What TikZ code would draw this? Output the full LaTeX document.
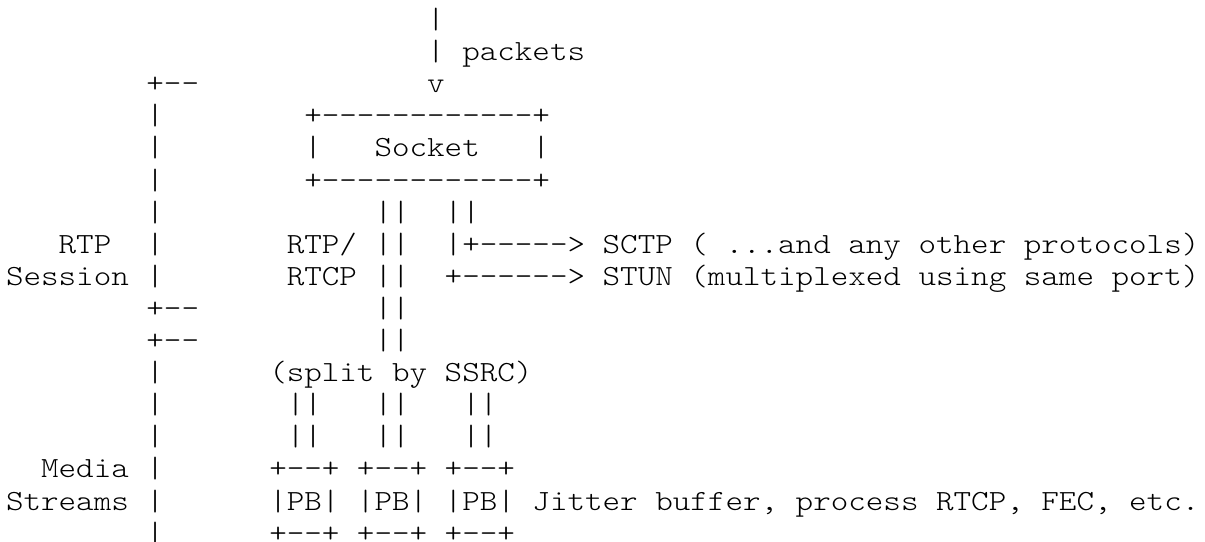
\documentclass[tikz,border=0pt]{standalone}
\usepackage{fontspec}
\setmonofont{Latin Modern Mono Light}[FakeStretch=1.142857]

\tikzset{
  ascii/.style={anchor=base west, inner sep=0pt, outer sep=0pt,
    font=\ttfamily\frenchspacing\fontsize{14.625pt}{16pt}\selectfont},
}

\begin{document}
\begin{tikzpicture}[x=8.775pt, y=-16.05pt]
        % one unit = one character column / one text row
        \useasboundingbox (-0.342,0.109) rectangle (68.32,16.994);

        % Incoming packets
        \node[ascii] (pktpipe) at (24,1) {|};
        \node[ascii] (pktlabel) at (24,2) {| packets};
        \node[ascii] (pktarrow) at (24,3) {v};

        % Socket box
        \node[ascii] (socktop) at (17,4) {+------------+};
        \node[ascii] (sockleft) at (17,5) {|};
        \node[ascii] (socket) at (21,5) {Socket};
        \node[ascii] (sockright) at (30,5) {|};
        \node[ascii] (sockbot) at (17,6) {+------------+};

        % Out of the socket
        \node[ascii] (rtppipe) at (21,7) {||};
        \node[ascii] (otherpipe) at (25,7) {||};
        \node[ascii] (rtplabel) at (16,8) {RTP/ ||};
        \node[ascii] (rtcplabel) at (16,9) {RTCP ||};
        \node[ascii] (sctp) at (25,8) {|+-----> SCTP ( ...and any other protocols)};
        \node[ascii] (stun) at (25,9) {+------> STUN (multiplexed using same port)};
        \foreach \r in {10,11} {
            \node[ascii] (rtppipe\r) at (21,\r) {||};
        }

        % Demux into streams
        \node[ascii] (split) at (15,12) {(split by SSRC)};
        \foreach \r in {13,14} {
            \foreach \c in {16,21,26} {
                \node[ascii] (ssrc\c-\r) at (\c,\r) {||};
            }
        }
        \node[ascii] (pbtop) at (15,15) {+--+ +--+ +--+};
        \node[ascii] (pb) at (15,16) {|PB| |PB| |PB| Jitter buffer, process RTCP, FEC, etc.};
        \node[ascii] (pbbot) at (15,17) {+--+ +--+ +--+};

        % Left brackets
        \node[ascii] (sesstop) at (8,3) {+--};
        \foreach \r in {4,...,9} {
            \node[ascii] (sessbar\r) at (8,\r) {|};
        }
        \node[ascii] (sessbot) at (8,10) {+--};
        \node[ascii] (medtop) at (8,11) {+--};
        \foreach \r in {12,...,17} {
            \node[ascii] (medbar\r) at (8,\r) {|};
        }
        \node[ascii] (rtpsess1) at (3,8) {RTP};
        \node[ascii] (rtpsess2) at (0,9) {Session};
        \node[ascii] (media1) at (2,15) {Media};
        \node[ascii] (media2) at (0,16) {Streams};

    \end{tikzpicture}
\end{document}
